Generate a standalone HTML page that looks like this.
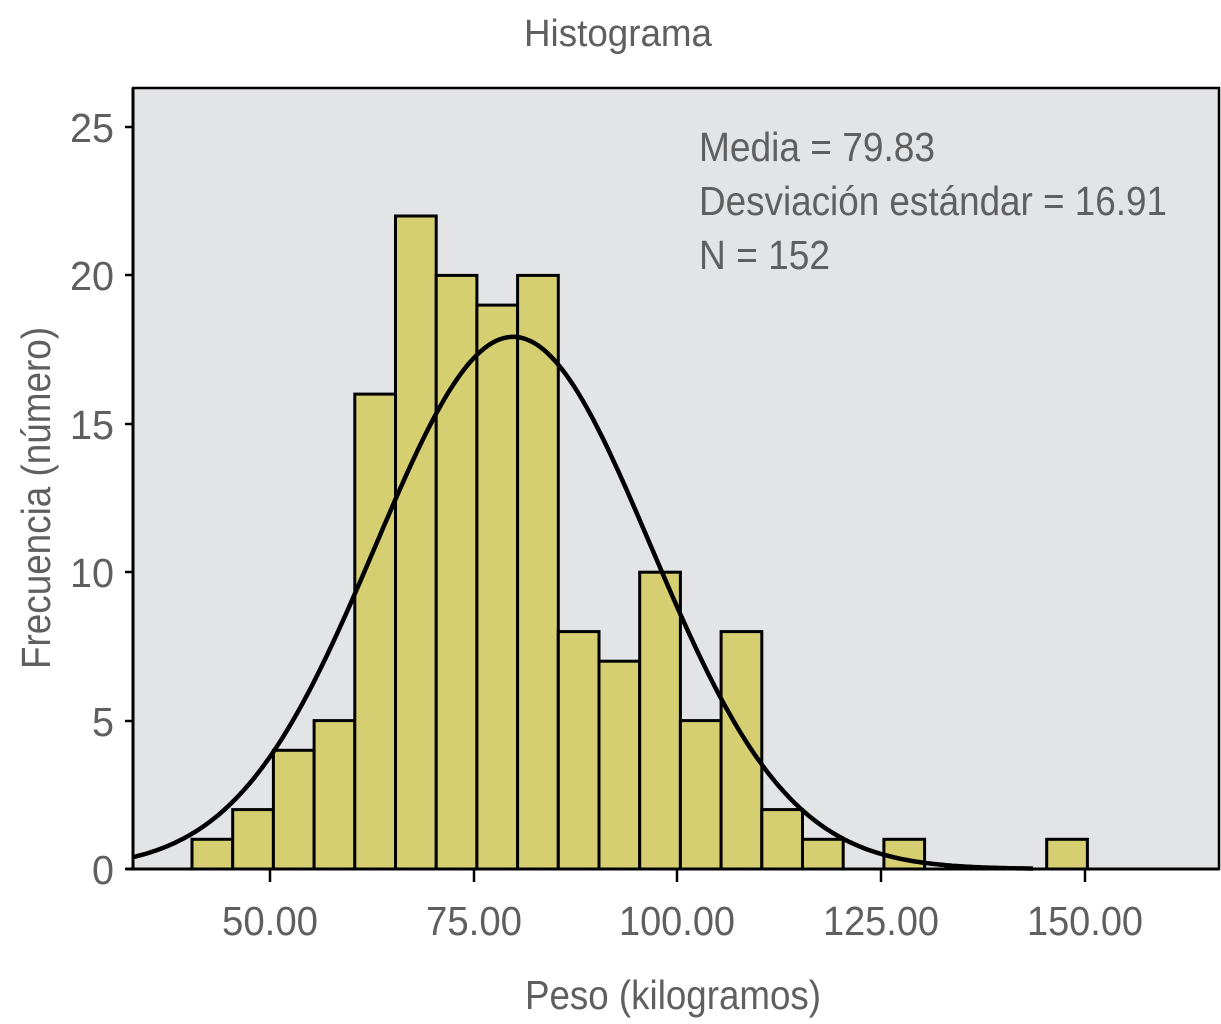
<!DOCTYPE html>
<html><head><meta charset="utf-8"><style>
html,body{margin:0;padding:0;background:#fff;}
svg{display:block;}
text{font-family:"Liberation Sans",sans-serif;fill:#5f5f5f;}
</style></head><body>
<svg id="s" width="1221" height="1024" viewBox="0 0 1221 1024">
<rect x="133" y="88" width="1086" height="781" fill="#e3e4e6" stroke="#000" stroke-width="2.5"/>
<g id="bars" fill="#d6cf72" stroke="#000" stroke-width="3"></g>
<path id="curve" fill="none" stroke="#000" stroke-width="4.5"/>
<line x1="126" y1="869" x2="1219" y2="869" stroke="#000" stroke-width="3"/>
<line x1="133" y1="88" x2="133" y2="869" stroke="#000" stroke-width="3"/>
<g stroke="#000" stroke-width="2.5">
<line x1="125" y1="869" x2="133" y2="869"/><line x1="125" y1="721" x2="133" y2="721"/>
<line x1="125" y1="572" x2="133" y2="572"/><line x1="125" y1="424" x2="133" y2="424"/>
<line x1="125" y1="275" x2="133" y2="275"/><line x1="125" y1="127" x2="133" y2="127"/>
<line x1="270" y1="869" x2="270" y2="882"/><line x1="474" y1="869" x2="474" y2="882"/>
<line x1="677" y1="869" x2="677" y2="882"/><line x1="881" y1="869" x2="881" y2="882"/>
<line x1="1085" y1="869" x2="1085" y2="882"/>
</g>
<g font-size="41" text-anchor="end">
<text x="114" y="884" textLength="22" lengthAdjust="spacingAndGlyphs">0</text>
<text x="114" y="736" textLength="22" lengthAdjust="spacingAndGlyphs">5</text>
<text x="114" y="587" textLength="44" lengthAdjust="spacingAndGlyphs">10</text>
<text x="114" y="439" textLength="44" lengthAdjust="spacingAndGlyphs">15</text>
<text x="114" y="290" textLength="44" lengthAdjust="spacingAndGlyphs">20</text>
<text x="114" y="142" textLength="44" lengthAdjust="spacingAndGlyphs">25</text>
</g>
<g font-size="41" text-anchor="middle">
<text x="270" y="935" textLength="96" lengthAdjust="spacingAndGlyphs">50.00</text>
<text x="474" y="935" textLength="96" lengthAdjust="spacingAndGlyphs">75.00</text>
<text x="677" y="935" textLength="116" lengthAdjust="spacingAndGlyphs">100.00</text>
<text x="881" y="935" textLength="116" lengthAdjust="spacingAndGlyphs">125.00</text>
<text x="1085" y="935" textLength="116" lengthAdjust="spacingAndGlyphs">150.00</text>
<text x="673" y="1009" textLength="296" lengthAdjust="spacingAndGlyphs">Peso (kilogramos)</text>
</g>
<text x="618" y="46" font-size="38" text-anchor="middle" textLength="188" lengthAdjust="spacingAndGlyphs">Histograma</text>
<text transform="translate(50,498) rotate(-90)" font-size="41" text-anchor="middle" textLength="342" lengthAdjust="spacingAndGlyphs">Frecuencia (número)</text>
<g font-size="41">
<text x="699" y="161" textLength="236" lengthAdjust="spacingAndGlyphs">Media = 79.83</text>
<text x="699" y="215" textLength="468" lengthAdjust="spacingAndGlyphs">Desviación estándar = 16.91</text>
<text x="699" y="269" textLength="131" lengthAdjust="spacingAndGlyphs">N = 152</text>
</g>
</svg>
<script>
var c=[1,2,4,5,16,22,20,19,20,8,7,10,5,8,2,1,0,1,0,0,0,1];
var g=document.getElementById('bars'),h='';
for(var i=0;i<c.length;i++){if(!c[i])continue;var x=192+i*40.7,y=869-c[i]*29.68;
h+='<rect x="'+x.toFixed(1)+'" y="'+y.toFixed(1)+'" width="40.7" height="'+(869-y).toFixed(1)+'"/>';}
g.innerHTML=h;
var d='';for(var px=133;px<=1035;px+=3){var kg=50+(px-270)/8.15;var z=(kg-79.83)/16.91;
var f=760/(16.91*2.5066)*Math.exp(-z*z/2);var py=869-f*29.68;d+=(d?'L':'M')+px+' '+py.toFixed(1);}
document.getElementById('curve').setAttribute('d',d);
</script>
</body></html>
